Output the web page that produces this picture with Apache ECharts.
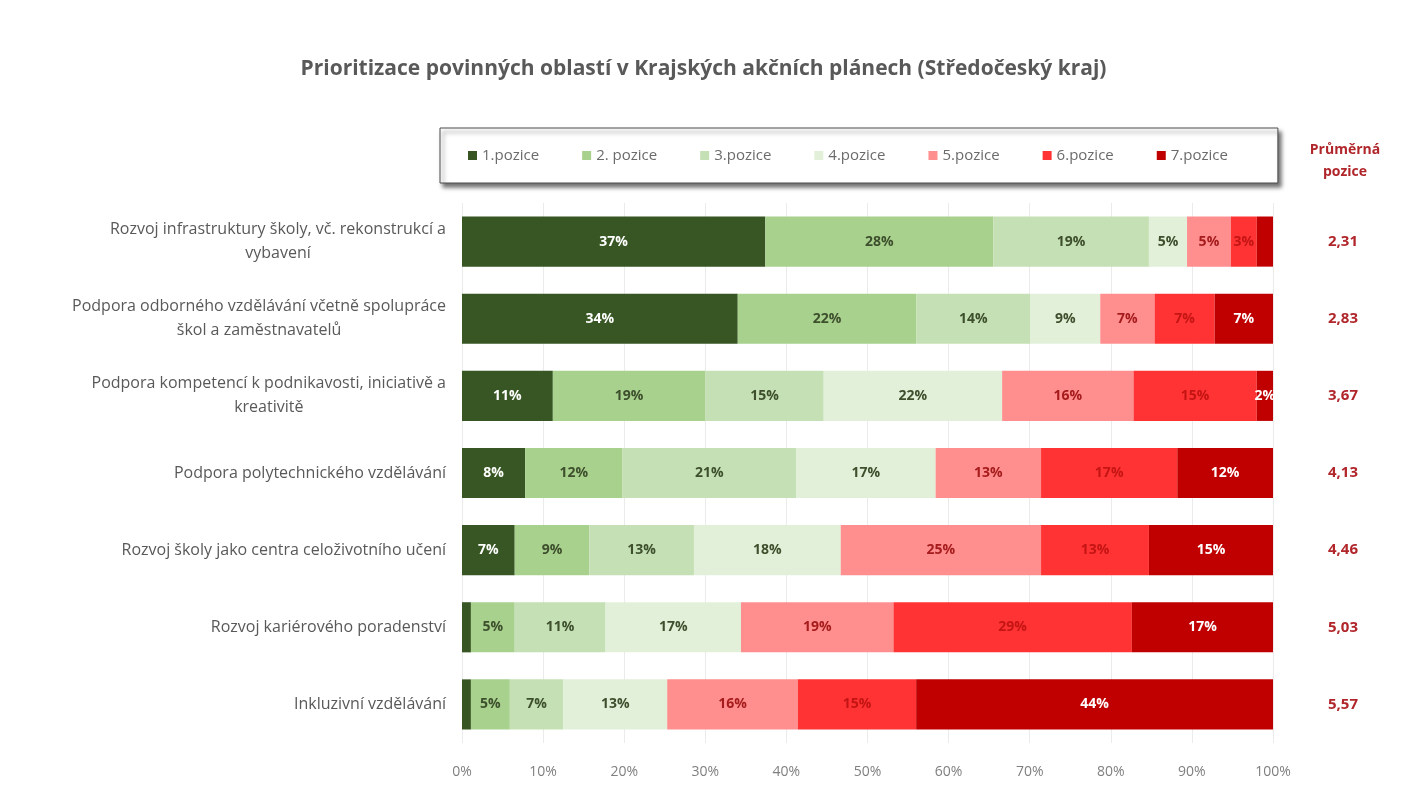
<!DOCTYPE html>
<html>
<head>
<meta charset="utf-8">
<script src="https://cdn.jsdelivr.net/npm/echarts@6/dist/echarts.min.js"></script>
<style>
  html, body { margin: 0; padding: 0; background: #fff; }
  #chart { width: 1407px; height: 805px; }
</style>
</head>
<body>
<div id="chart"></div>
<script>
// kategorie (shora dolů)
const categories = [
  'Rozvoj infrastruktury školy, vč. rekonstrukcí a\nvybavení',
  'Podpora odborného vzdělávání včetně spolupráce\nškol a zaměstnavatelů',
  'Podpora kompetencí k podnikavosti, iniciativě a\nkreativitě',
  'Podpora polytechnického vzdělávání',
  'Rozvoj školy jako centra celoživotního učení',
  'Rozvoj kariérového poradenství',
  'Inkluzivní vzdělávání'
];
const positions = ['1.pozice', '2. pozice', '3.pozice', '4.pozice', '5.pozice', '6.pozice', '7.pozice'];

// podíly v % pro každou pozici (pořadí = categories)
const pos1 = [37.4, 34.0, 11.2, 7.8, 6.5, 1.1, 1.1];
const pos2 = [28.1, 22.0, 18.8, 12.0, 9.2, 5.4, 4.8];
const pos3 = [19.2, 14.1, 14.6, 21.4, 12.9, 11.2, 6.6];
const pos4 = [4.7, 8.6, 22.0, 17.2, 18.1, 16.7, 12.8];
const pos5 = [5.4, 6.7, 16.2, 13.0, 24.7, 18.8, 16.1];
const pos6 = [3.2, 7.4, 15.2, 16.8, 13.3, 29.4, 14.6];
const pos7 = [2.0, 7.2, 2.0, 11.8, 15.3, 17.4, 44.0];

// průměrná pozice
const average = ['2,31', '2,83', '3,67', '4,13', '4,46', '5,03', '5,57'];

// popisky, které v originále chybí [kategorie, pozice]
const hiddenLabels = [[0, 6], [5, 0], [6, 0]];

const xTicks = [0, 10, 20, 30, 40, 50, 60, 70, 80, 90, 100];

const colors = ['#375623', '#a9d18e', '#c5e0b4', '#e2f0d9', '#ff8f8f', '#ff3333', '#c00000'];
const labelColors = ['#ffffff', '#3d4f2c', '#3d4f2c', '#3d4f2c', '#a61c1c', '#c41414', '#ffffff'];
const font = '"Open Sans", Lato, sans-serif';

const allData = [pos1, pos2, pos3, pos4, pos5, pos6, pos7];

const myChart = echarts.init(document.getElementById('chart'));

const series = allData.map((vals, s) => ({
  name: positions[s],
  type: 'bar',
  stack: 'total',
  barCategoryGap: '35%',
  itemStyle: { color: colors[s] },
  label: {
    show: true,
    position: 'inside',
    fontFamily: font,
    fontSize: 14,
    fontWeight: 'bold',
    color: labelColors[s],
    formatter: p => {
      const hide = hiddenLabels.some(h => h[0] === p.dataIndex && h[1] === s);
      return hide ? '' : Math.round(p.value) + '%';
    }
  },
  emphasis: { disabled: true },
  data: vals
}));

const option = {
  animation: false,
  backgroundColor: '#ffffff',
  title: [
    {
      text: 'Prioritizace povinných oblastí v Krajských akčních plánech (Středočeský kraj)',
      left: 'center',
      top: 54,
      textStyle: { fontFamily: font, fontSize: 21, fontWeight: 'bold', color: '#595959' }
    },
    {
      text: 'Průměrná\npozice',
      left: 1340,
      top: 134,
      textAlign: 'center',
      textStyle: { fontFamily: font, fontSize: 14, fontWeight: 'bold', color: '#b0262b', lineHeight: 22 }
    }
  ],
  legend: {
    data: positions,
    left: 440,
    top: 128,
    icon: 'rect',
    itemWidth: 9,
    itemHeight: 9,
    itemGap: 43,
    padding: [20, 50, 20, 28],
    backgroundColor: '#ffffff',
    borderColor: '#4d4d4d',
    borderWidth: 1,
    shadowColor: 'rgba(0,0,0,0.55)',
    shadowBlur: 4,
    shadowOffsetX: 3,
    shadowOffsetY: 4,
    selectedMode: false,
    textStyle: { fontFamily: font, fontSize: 15, color: '#6b6b6b' }
  },
  grid: {
    left: 462,
    right: 134,
    top: 203,
    bottom: 62
  },
  xAxis: {
    type: 'value',
    min: 0,
    max: 100,
    interval: 10,
    axisLine: { show: false },
    axisTick: { show: false },
    splitLine: { show: true, lineStyle: { color: '#ebebeb' } },
    axisLabel: {
      margin: 22,
      fontFamily: font,
      fontSize: 14,
      color: '#7f7f7f',
      formatter: v => (xTicks.indexOf(v) >= 0 ? v + '%' : '')
    }
  },
  yAxis: [
    {
      type: 'category',
      inverse: true,
      data: categories,
      axisLine: { show: false },
      axisTick: { show: false },
      axisLabel: {
        margin: 16,
        align: 'right',
        fontFamily: font,
        fontSize: 16,
        color: '#595959',
        lineHeight: 24,
        formatter: v => v.split('\n').map((l, i) => (i ? '{c|' + l + '}' : '{a|' + l + '}')).join('\n'),
        rich: {
          a: { fontFamily: font, fontSize: 16, color: '#595959', lineHeight: 24 },
          c: { fontFamily: font, fontSize: 16, color: '#595959', lineHeight: 24, align: 'center' }
        }
      }
    },
    {
      type: 'category',
      inverse: true,
      position: 'right',
      data: average,
      axisLine: { show: false },
      axisTick: { show: false },
      axisLabel: {
        margin: 70,
        align: 'center',
        fontFamily: font,
        fontSize: 15,
        fontWeight: 'bold',
        color: '#b0262b'
      }
    }
  ],
  series: series
};

myChart.setOption(option);
</script>
</body>
</html>
